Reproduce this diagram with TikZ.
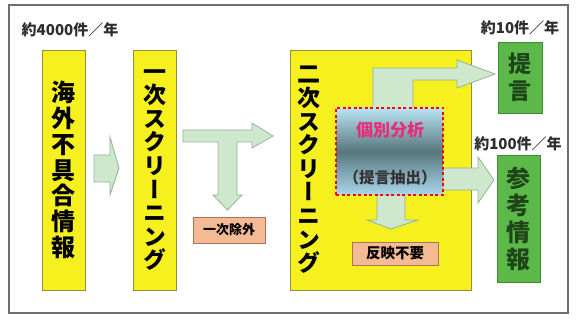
\documentclass[tikz,border=0pt]{standalone}
\usepackage{fontspec}
\newfontfamily\jp{Noto Sans CJK JP}
\newfontfamily\jpv[RawFeature=+vert]{Noto Sans CJK JP}
\definecolor{ybox}{RGB}{245,240,30}
\definecolor{yline}{RGB}{150,140,60}
\definecolor{gbox}{RGB}{92,184,72}
\definecolor{gline}{RGB}{60,140,50}
\definecolor{gtext}{RGB}{30,70,25}
\definecolor{arrfill}{RGB}{205,232,205}
\definecolor{arrline}{RGB}{150,180,150}
\definecolor{obox}{RGB}{244,186,148}
\definecolor{oline}{RGB}{170,115,85}
\definecolor{frame}{RGB}{110,110,110}
\definecolor{lbltext}{RGB}{45,45,45}
\definecolor{gtop}{RGB}{185,228,244}
\definecolor{gmid}{RGB}{88,118,126}
\definecolor{gbot}{RGB}{170,216,236}
\definecolor{magent}{RGB}{230,45,120}
\begin{document}
\begin{tikzpicture}[x=1pt,y=-1pt,
  yellowbox/.style={draw=yline, line width=0.8pt, fill=ybox, inner sep=0pt},
  greenbox/.style={draw=gline, line width=0.6pt, fill=gbox, inner sep=0pt, text=gtext, align=center,
    font=\jpv\bfseries\fontsize{23}{27}\selectfont},
  orangebox/.style={draw=oline, line width=0.8pt, fill=obox, inner sep=0pt, text=black,
    font=\jp\bfseries\fontsize{13}{15}\selectfont},
  vtxt/.style={align=center, inner sep=0pt, text=black, font=\jpv\bfseries\fontsize{23}{23.6}\selectfont},
  lbl/.style={inner sep=0pt, text=lbltext, font=\jp\bfseries\fontsize{15}{17}\selectfont},
  blockarrow/.style={draw=arrline, line width=0.8pt, fill=arrfill, line join=miter}]
\useasboundingbox (0,0) rectangle (576,320);
\fill[white] (0,0) rectangle (576,320);
\draw[frame, line width=2pt] (9,5) rectangle (568,313);

% labels
\node[lbl] (l1) at (70,30) {約4000件／年};
\node[lbl] (l2) at (520,28) {約10件／年};
\node[lbl] (l3) at (518,144) {約100件／年};

% box 1
\node[yellowbox, minimum width=43pt, minimum height=240pt] (b1) at (63.5,170) {};
\node[vtxt, font=\jpv\bfseries\fontsize{24}{25.8}\selectfont] (t1) at (b1.center) {海\\外\\不\\具\\合\\情\\報};

% box 2
\node[yellowbox, minimum width=43pt, minimum height=240pt] (b2) at (154.5,170) {};
\node[vtxt] (t2) at (b2.center) {一\\次\\ス\\ク\\リ\\ー\\ニ\\ン\\グ};

% box 3
\node[yellowbox, minimum width=181pt, minimum height=240pt] (b3) at (380.5,170) {};
\node[vtxt] (t3) at (309,170) {二\\次\\ス\\ク\\リ\\ー\\ニ\\ン\\グ};

% block arrows (drawn below the analysis box)
\draw[blockarrow] (94,155) -- (110,155) -- (110,137) -- (119,168) -- (110,195) -- (110,182) -- (94,182) -- cycle;
\draw[blockarrow] (183,130) -- (252,130) -- (252,123) -- (273,136) -- (252,148) -- (252,142)
  -- (237,142) -- (237,195) -- (242,195) -- (227.5,210) -- (213,195) -- (218,195) -- (218,142) -- (183,142) -- cycle;
\draw[blockarrow] (373,108) -- (373,68) -- (457,68) -- (457,60) -- (495,74) -- (457,88) -- (457,80) -- (413,80) -- (413,108) -- cycle;
\draw[blockarrow] (443,168) -- (478,168) -- (478,157) -- (494,180) -- (478,203) -- (478,190) -- (443,190) -- cycle;
\draw[blockarrow] (377,195) -- (405,195) -- (405,220) -- (418,220) -- (391,229) -- (367,220) -- (377,220) -- cycle;

% inner analysis box
\node[draw=red, dashed, line width=1.2pt, dash pattern=on 3pt off 2.5pt,
  top color=gtop, bottom color=gbot, middle color=gmid,
  minimum width=107pt, minimum height=87pt, inner sep=0pt] (ana) at (389.5,151.5) {};
\node[inner sep=0pt, text=magent, font=\jp\bfseries\fontsize{17}{19}\selectfont] (ana1) at (390,130) {個別分析};
\node[inner sep=0pt, text=black!80, font=\jp\bfseries\fontsize{15.5}{17}\selectfont] (ana2) at (390,178) {（提言抽出）};

% green boxes
\node[greenbox, minimum width=44pt, minimum height=71pt] (g1) at (520,77.5) {提\\言};
\node[greenbox, minimum width=43pt, minimum height=127pt, font=\jpv\bfseries\fontsize{24}{27}\selectfont] (g2) at (518.5,218.5) {参\\考\\情\\報};

% orange boxes
\node[orangebox, minimum width=72pt, minimum height=26pt] (o1) at (229,230) {一次除外};
\node[orangebox, minimum width=86pt, minimum height=23pt, font=\jp\bfseries\fontsize{14.5}{16}\selectfont] (o2) at (395,253.5) {反映不要};
\end{tikzpicture}
\end{document}
